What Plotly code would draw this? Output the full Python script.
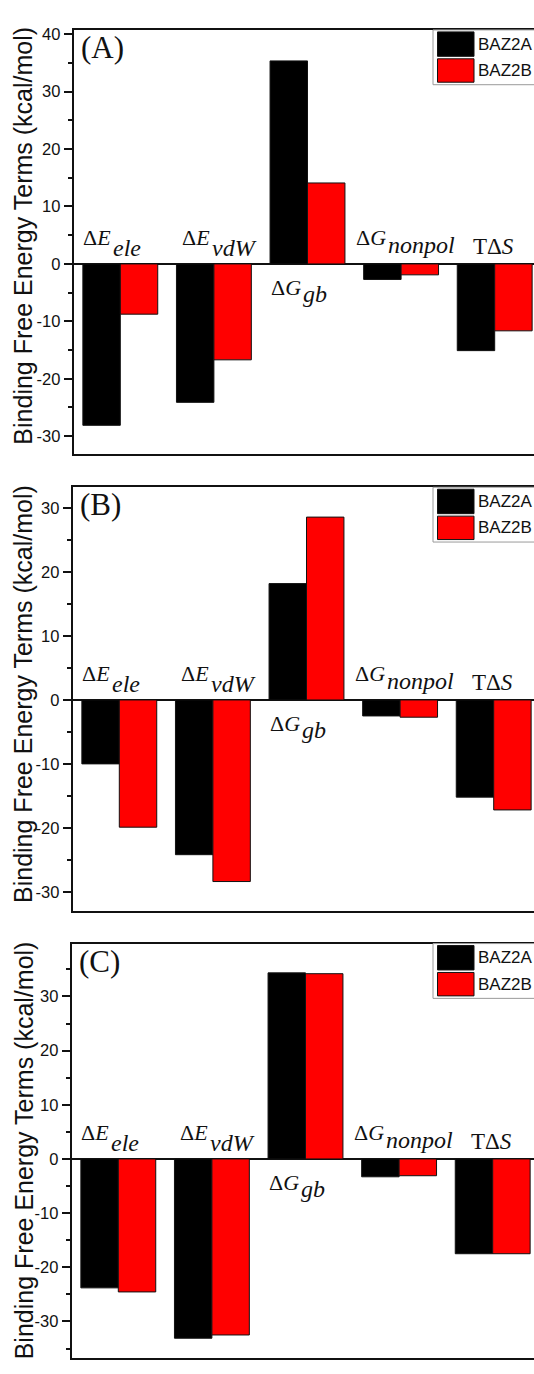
import plotly.graph_objects as go
from plotly.subplots import make_subplots

# ---------------- data ----------------
categories = ["ele", "vdW", "gb", "nonpol", "TdS"]
series_names = ["BAZ2A", "BAZ2B"]
panel_labels = ["(A)", "(B)", "(C)"]

a_baz2a = [-28.1, -24.1, 35.35, -2.7, -15.1]
a_baz2b = [-8.75, -16.7, 14.1, -1.9, -11.65]
b_baz2a = [-10.0, -24.2, 18.2, -2.5, -15.2]
b_baz2b = [-19.9, -28.4, 28.6, -2.7, -17.2]
c_baz2a = [-23.8, -33.1, 34.35, -3.3, -17.5]
c_baz2b = [-24.55, -32.5, 34.2, -3.1, -17.5]

a_ticks = [-30, -20, -10, 0, 10, 20, 30, 40]
b_ticks = [-30, -20, -10, 0, 10, 20, 30]
c_ticks = [-30, -20, -10, 0, 10, 20, 30]

label_main = ["Δ<i>E</i>", "Δ<i>E</i>", "Δ<i>G</i>", "Δ<i>G</i>", "TΔ<i>S</i>"]
label_sub = ["<i>ele</i>", "<i>vdW</i>", "<i>gb</i>", "<i>nonpol</i>", ""]

y_title = "Binding Free Energy Terms (kcal/mol)"

# ---------------- style / geometry ----------------
W, H = 534, 1374
colors = ["#000000", "#ff0000"]
SERIF = "Liberation Serif, Times New Roman, serif"
SANS = "Liberation Sans, Arial, sans-serif"
spacing = 93.6  # px per category

panels = [
    dict(left=73.5, top=25, bottom=451, yr=[-33.16, 40.75], ticks=a_ticks,
         vals=(a_baz2a, a_baz2b), title_c=232),
    dict(left=72.5, top=484, bottom=909, yr=[-32.96, 33.27], ticks=b_ticks,
         vals=(b_baz2a, b_baz2b), title_c=692),
    dict(left=71.5, top=942, bottom=1358, yr=[-36.76, 39.76], ticks=c_ticks,
         vals=(c_baz2a, c_baz2b), title_c=1150),
]

# (dx px from category center, main baseline px above zero, sub baseline px above zero)
label_pos = [(-7.5, 19, 8), (-2.3, 19, 7.5), (-4.4, -31, -38), (-13.5, 19, 11), (-1, 9.5, None)]
FS_MAIN = 22
FS_SUB = 24
BASE_ADJ = 7
SUB_GAP = -2


def px(x):
    return x / W


def py(y):
    return 1 - y / H


fig = make_subplots(rows=3, cols=1)

annotations = []
shapes = []

for i, p in enumerate(panels):
    r = i + 1
    xa = "x" if r == 1 else f"x{r}"
    ya = "y" if r == 1 else f"y{r}"
    for s in range(2):
        fig.add_trace(
            go.Bar(
                x=categories, y=p["vals"][s], name=series_names[s],
                marker=dict(color=colors[s], line=dict(color="#111111", width=1)),
                showlegend=False,
            ),
            row=r, col=1,
        )
    xr_end = -0.5 + (W - p["left"]) / spacing
    fig.update_xaxes(
        domain=[px(p["left"]), 1.0], range=[-0.5, xr_end], type="category",
        showticklabels=False, ticks="", showline=True, mirror=True,
        linecolor="#111111", linewidth=1.5, showgrid=False, zeroline=False,
        row=r, col=1,
    )
    fig.update_yaxes(
        domain=[py(p["bottom"]), py(p["top"])], range=p["yr"],
        tickvals=p["ticks"], ticktext=[str(t) for t in p["ticks"]],
        ticks="outside", ticklen=8, tickwidth=1.5, tickcolor="#111111",
        tickfont=dict(family=SANS, size=16.5, color="#111111"),
        minor=dict(dtick=5, tick0=0, ticks="outside", ticklen=4, tickwidth=1.5,
                   tickcolor="#111111", showgrid=False),
        showline=True, mirror=False, linecolor="#111111", linewidth=1.5,
        showgrid=False, zeroline=True, zerolinecolor="#111111", zerolinewidth=1.5,
        row=r, col=1,
    )

    annotations.append(dict(
        text=y_title, textangle=-90, xref="paper", yref="paper",
        x=px(23.5), y=py(p["title_c"]), xanchor="center", yanchor="middle",
        showarrow=False, font=dict(family=SANS, size=25, color="#111111"),
    ))
    annotations.append(dict(
        text=panel_labels[i], xref="paper", yref="paper",
        x=px(p["left"] + 5), y=py(p["top"] - 2), xanchor="left", yanchor="top",
        showarrow=False, font=dict(family=SERIF, size=31, color="#111111"),
    ))
    for k, cat in enumerate(categories):
        dx, mb, sb = label_pos[k]
        if sb is None:
            annotations.append(dict(
                text=label_main[k], xref=xa, yref=ya, x=cat, y=0,
                xanchor="center", yanchor="bottom", xshift=dx, yshift=mb - BASE_ADJ,
                showarrow=False, font=dict(family=SERIF, size=FS_MAIN + 1, color="#111111"),
            ))
        else:
            annotations.append(dict(
                text=label_main[k], xref=xa, yref=ya, x=cat, y=0,
                xanchor="right", yanchor="bottom", xshift=dx, yshift=mb - BASE_ADJ,
                showarrow=False, font=dict(family=SERIF, size=FS_MAIN, color="#111111"),
            ))
            annotations.append(dict(
                text=label_sub[k], xref=xa, yref=ya, x=cat, y=0,
                xanchor="left", yanchor="bottom", xshift=dx + SUB_GAP, yshift=sb - BASE_ADJ,
                showarrow=False, font=dict(family=SERIF, size=FS_SUB, color="#111111"),
            ))

    # legend box (drawn manually)
    t = p["top"]
    shapes.append(dict(type="rect", xref="paper", yref="paper",
                       x0=px(433), x1=px(560), y0=py(t + 55), y1=py(t),
                       line=dict(color="#9a9a9a", width=1), fillcolor="white", layer="above"))
    sw = [(t + 2, t + 26.5), (t + 29, t + 52.5)]
    for s in range(2):
        shapes.append(dict(type="rect", xref="paper", yref="paper",
                           x0=px(437.5), x1=px(474), y0=py(sw[s][1]), y1=py(sw[s][0]),
                           line=dict(color="#111111", width=1), fillcolor=colors[s], layer="above"))
        annotations.append(dict(
            text=series_names[s], xref="paper", yref="paper",
            x=px(476), y=py((sw[s][0] + sw[s][1]) / 2), xanchor="left", yanchor="middle",
            showarrow=False, font=dict(family=SANS, size=17, color="#111111"),
        ))

fig.update_layout(
    width=W, height=H, margin=dict(l=0, r=0, t=0, b=0),
    paper_bgcolor="white", plot_bgcolor="white",
    barmode="group", bargap=0.2, bargroupgap=0,
    showlegend=False, annotations=annotations, shapes=shapes,
)

fig.write_html(
    "out.html",
    config={"displayModeBar": False},
    post_script="document.body.style.margin='0';document.body.style.overflow='hidden';"
                "document.documentElement.style.overflow='hidden';",
)
